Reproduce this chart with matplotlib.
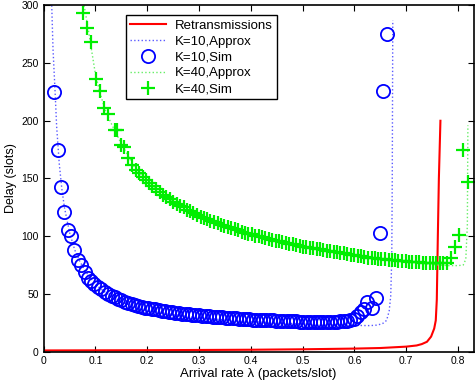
import matplotlib
matplotlib.use('Agg')
import matplotlib.pyplot as plt

plt.rcParams['font.family'] = ['Liberation Sans', 'DejaVu Sans']

# Retransmissions (analytical)
lam_retx = [0.0, 0.1, 0.2, 0.3, 0.4, 0.5, 0.6, 0.65, 0.7, 0.72, 0.73, 0.74,
            0.748, 0.754, 0.757, 0.759, 0.761, 0.763, 0.766]
delay_retx = [1.0, 1.1, 1.2, 1.4, 1.6, 2.0, 2.6, 3.1, 4.3, 5.3, 6.5, 8.5,
              13, 20, 27, 45, 100, 150, 200]

# K=10 approximation
lam_k10_apx = [0.0155, 0.018, 0.022, 0.025, 0.03, 0.035, 0.04, 0.05, 0.06, 0.07,
               0.08, 0.1, 0.12, 0.15, 0.2, 0.25, 0.3, 0.35, 0.4, 0.45, 0.5,
               0.55, 0.6, 0.63, 0.645, 0.655, 0.662, 0.667, 0.67, 0.672,
               0.673, 0.674]
delay_k10_apx = [300, 262, 225, 195, 163, 141, 125, 103, 88, 78,
                 70, 58, 51, 43, 36, 32, 29.5, 27.5, 26, 25, 24,
                 23.2, 22.7, 22.5, 23, 24.5, 27, 35, 48, 80,
                 150, 287]

# K=10 simulation
lam_k10_sim = [0.020, 0.027, 0.033, 0.040, 0.046, 0.053, 0.059, 0.066, 0.072, 0.079,
               0.085, 0.092, 0.098, 0.105, 0.111, 0.118, 0.124, 0.131, 0.137, 0.144,
               0.150, 0.157, 0.163, 0.170, 0.176, 0.183, 0.189, 0.196, 0.202, 0.209,
               0.215, 0.222, 0.228, 0.235, 0.241, 0.248, 0.254, 0.261, 0.267, 0.274,
               0.280, 0.287, 0.293, 0.300, 0.306, 0.313, 0.319, 0.326, 0.332, 0.339,
               0.345, 0.352, 0.358, 0.365, 0.371, 0.378, 0.384, 0.391, 0.397, 0.404,
               0.410, 0.417, 0.423, 0.430, 0.436, 0.443, 0.449, 0.456, 0.462, 0.469,
               0.475, 0.482, 0.488, 0.495, 0.501, 0.508, 0.514, 0.521, 0.527, 0.534,
               0.540, 0.547, 0.553, 0.560, 0.566, 0.573, 0.579, 0.586, 0.592, 0.599,
               0.605, 0.612, 0.618, 0.625, 0.633, 0.641, 0.649, 0.656, 0.662]
delay_k10_sim = [225, 175, 143, 121, 105, 100, 88, 79, 75, 69,
                 64, 61, 59, 56, 54, 52, 50, 48.5, 47, 45.5,
                 44.5, 43, 42, 41, 40.5, 39.5, 39, 38, 37.5, 37,
                 36.5, 36, 35.5, 35, 34.5, 34, 33.7, 33.3, 33, 32.6,
                 32.3, 32, 31.7, 31.5, 31.2, 31, 30.7, 30.4, 30.2, 30,
                 29.8, 29.5, 29.3, 29, 28.8, 28.6, 28.4, 28.2, 28, 27.8,
                 27.7, 27.5, 27.4, 27.2, 27.1, 27, 26.8, 26.7, 26.6, 26.4,
                 26.3, 26.2, 26.1, 26, 26, 25.9, 25.8, 25.8, 25.7, 25.7,
                 25.6, 25.6, 25.7, 25.8, 25.9, 26.1, 26.4, 26.8, 27.4, 28.5,
                 31, 34, 36.5, 43, 38, 46.5, 103, 226, 275.5]

# K=40 approximation
lam_k40_apx = [0.078, 0.085, 0.09, 0.1, 0.11, 0.12, 0.13, 0.15, 0.175, 0.2,
               0.25, 0.3, 0.35, 0.4, 0.45, 0.5, 0.55, 0.6, 0.65, 0.7,
               0.75, 0.78, 0.8, 0.81, 0.815, 0.818, 0.819]
delay_k40_apx = [300, 282, 268, 240, 222, 208, 198, 180, 160, 147,
                 130, 117, 109, 102, 96, 91, 87, 83.5, 80, 77.5,
                 75.5, 74.5, 74.5, 75, 80, 110, 196]

# K=40 simulation
lam_k40_sim = [0.075, 0.084, 0.091, 0.101, 0.108, 0.117, 0.124, 0.137, 0.142, 0.149,
               0.156, 0.162, 0.170, 0.178, 0.184, 0.191, 0.197, 0.204, 0.210, 0.217,
               0.224, 0.230, 0.237, 0.243, 0.250, 0.257, 0.263, 0.270, 0.276, 0.283,
               0.289, 0.296, 0.303, 0.309, 0.316, 0.322, 0.329, 0.336, 0.342, 0.349,
               0.355, 0.362, 0.369, 0.375, 0.382, 0.388, 0.395, 0.402, 0.408, 0.415,
               0.421, 0.428, 0.435, 0.441, 0.448, 0.454, 0.461, 0.468, 0.474, 0.481,
               0.487, 0.494, 0.501, 0.507, 0.514, 0.520, 0.527, 0.534, 0.540, 0.547,
               0.553, 0.560, 0.567, 0.573, 0.580, 0.586, 0.593, 0.600, 0.606, 0.613,
               0.619, 0.626, 0.633, 0.639, 0.646, 0.652, 0.659, 0.666, 0.672, 0.679,
               0.685, 0.692, 0.699, 0.705, 0.712, 0.718, 0.725, 0.732, 0.738, 0.745,
               0.751, 0.758, 0.765, 0.771, 0.778, 0.786, 0.794, 0.802, 0.810, 0.819]
delay_k40_sim = [293, 280, 268, 236, 226, 211.5, 206, 192, 192, 179,
                 177, 168, 162, 157, 155, 151, 148.5, 146, 143.5, 141,
                 138.5, 136, 134, 132, 130, 128, 126.5, 125, 123, 121.5,
                 120, 118.5, 117, 116, 114.5, 113.5, 112, 111, 110, 109,
                 108, 107, 106, 105, 104, 103, 102, 101.5, 100.5, 100,
                 99, 98.5, 97.5, 97, 96, 95.5, 95, 94, 93.5, 93,
                 92.5, 91.5, 91, 90.5, 90, 89.5, 89, 88.5, 88, 87.5,
                 87, 86.5, 86, 85.5, 85, 84.5, 84, 83.5, 83, 82.5,
                 82, 81.5, 81.3, 81, 80.5, 80.2, 80, 79.7, 79.4, 79,
                 78.7, 78.4, 78.1, 77.9, 77.6, 77.4, 77.2, 77, 76.8, 76.6,
                 76.5, 76.4, 76.4, 76.5, 77, 81, 91, 101, 174.5, 147]

x_ticks = [0, 0.1, 0.2, 0.3, 0.4, 0.5, 0.6, 0.7, 0.8]
y_ticks = [0, 50, 100, 150, 200, 250, 300]

fig = plt.figure(figsize=(4.75, 3.83), dpi=100)
ax = fig.add_axes([0.092, 0.082, 0.905, 0.904])

ax.plot(lam_retx, delay_retx, '-', color='#ff0000', lw=1.5, label='Retransmissions')
ax.plot(lam_k10_apx, delay_k10_apx, ':', color='#5a5aff', lw=1.0, label='K=10,Approx')
ax.plot(lam_k10_sim, delay_k10_sim, 'o', color='#0000ff', mfc='none', ms=9.5, mew=1.3,
        ls='none', label='K=10,Sim')
ax.plot(lam_k40_apx, delay_k40_apx, ':', color='#66ee66', lw=1.0, label='K=40,Approx')
ax.plot(lam_k40_sim, delay_k40_sim, '+', color='#00ee00', ms=10, mew=1.6,
        ls='none', label='K=40,Sim')

ax.set_xlim(0, 0.83)
ax.set_ylim(0, 300)
ax.set_xticks(x_ticks)
ax.set_xticklabels(['0', '0.1', '0.2', '0.3', '0.4', '0.5', '0.6', '0.7', '0.8'])
ax.set_yticks(y_ticks)
ax.tick_params(direction='in', top=True, right=True, labelsize=7.5, length=4, width=0.8)
for s in ax.spines.values():
    s.set_linewidth(1.2)

ax.set_xlabel('Arrival rate \u03bb (packets/slot)', fontsize=9.5, labelpad=1)
ax.set_ylabel('Delay (slots)', fontsize=9, labelpad=3)

leg = ax.legend(loc='upper left', bbox_to_anchor=(0.177, 0.99), fontsize=9.5,
                frameon=True, fancybox=False, edgecolor='black', framealpha=1,
                handlelength=2.7, borderpad=0.3, labelspacing=0.28, handletextpad=0.7)
leg.get_frame().set_linewidth(1.0)

fig.savefig('out.png', dpi=100)
